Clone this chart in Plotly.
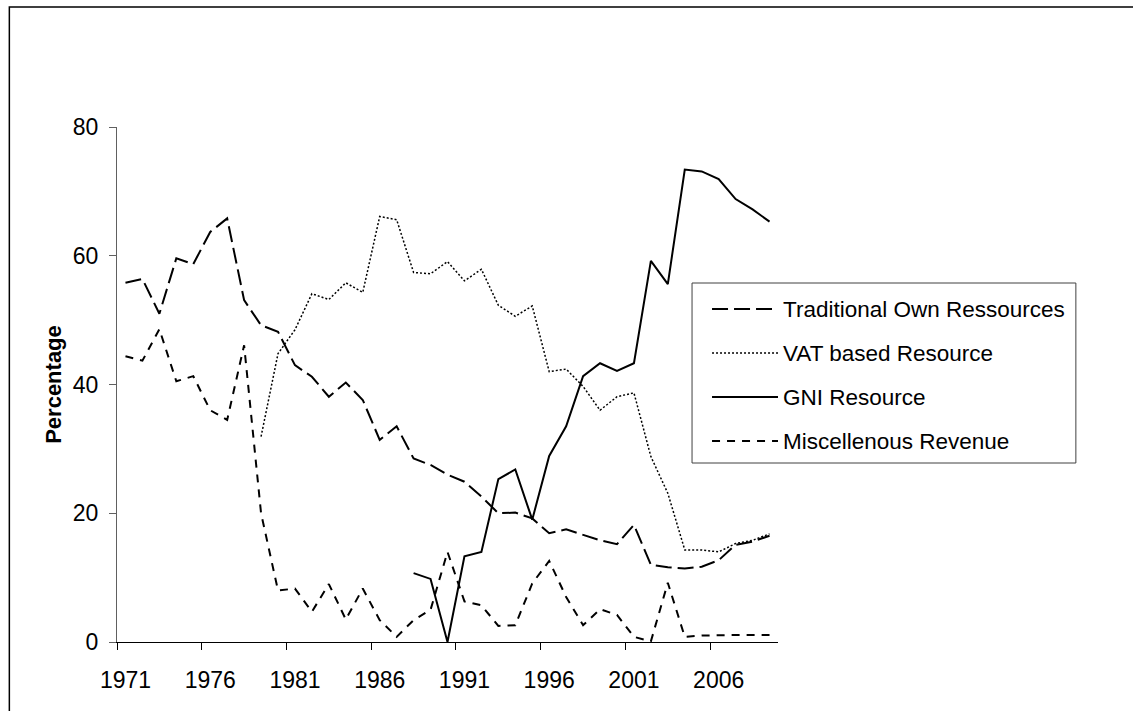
import plotly.graph_objects as go

years = list(range(1971, 2010))

traditional_own = [55.8, 56.4, 51.0, 59.6, 58.7, 63.7, 65.8, 53.1, 49.2, 48.2,
                   43.0, 41.2, 38.1, 40.3, 37.6, 31.4, 33.5, 28.5, 27.5, 26.0,
                   24.9, 22.6, 20.0, 20.1, 19.2, 16.9, 17.5, 16.6, 15.8, 15.2,
                   18.2, 12.0, 11.6, 11.4, 11.7, 12.7, 15.1, 15.6, 16.5]

vat_based = [None, None, None, None, None, None, None, None, 31.9, 44.8,
             48.5, 54.1, 53.2, 55.8, 54.3, 66.1, 65.6, 57.4, 57.2, 59.1,
             56.1, 57.9, 52.3, 50.6, 52.2, 42.0, 42.4, 39.7, 36.0, 38.1,
             38.7, 28.8, 23.1, 14.3, 14.3, 14.0, 15.3, 15.8, 16.8]

gni_resource = [None, None, None, None, None, None, None, None, None, None,
                None, None, None, None, None, None, None, 10.7, 9.8, 0.0,
                13.3, 14.0, 25.3, 26.8, 19.0, 28.9, 33.5, 41.3, 43.3, 42.1,
                43.3, 59.2, 55.6, 73.4, 73.1, 71.9, 68.8, 67.2, 65.3]

misc_revenue = [44.4, 43.7, 48.6, 40.5, 41.3, 36.0, 34.5, 46.1, 20.0, 8.0,
                8.3, 4.7, 9.0, 3.5, 8.3, 3.4, 0.8, 3.4, 5.0, 14.0,
                6.3, 5.7, 2.5, 2.6, 9.1, 12.6, 7.0, 2.6, 5.1, 4.2,
                0.8, 0.1, 9.2, 0.8, 1.0, 1.1, 1.1, 1.1, 1.1]

series_names = ["Traditional Own Ressources", "VAT based Resource",
                "GNI Resource", "Miscellenous Revenue"]
series_values = [traditional_own, vat_based, gni_resource, misc_revenue]
dash_styles = ["16px,6px", "2px,2px", "solid", "8px,7px"]
line_widths = [2, 1.5, 2, 2]

x_tick_labels = ["1971", "1976", "1981", "1986", "1991", "1996", "2001", "2006"]
x_tick_vals = [int(t) for t in x_tick_labels]
x_boundaries = [v - 0.5 for v in x_tick_vals]
y_tick_vals = [0, 20, 40, 60, 80]

FONT = "Arial, Liberation Sans, sans-serif"

fig = go.Figure()
for name, vals, dsh, lw in zip(series_names, series_values, dash_styles, line_widths):
    fig.add_trace(go.Scatter(x=years, y=vals, name=name, mode="lines",
                             line=dict(color="black", width=lw, dash=dsh),
                             connectgaps=False, showlegend=False))

L, R, T, B = 116.7, 778.0, 127.0, 642.0
pw, ph = R - L, B - T
def px(xp):
    return (xp - L) / pw
def py(yp):
    return (B - yp) / ph

shapes = []
annotations = []
# outer frame (only top and left edges fall inside the page)
shapes.append(dict(type="rect", xref="paper", yref="paper",
                   x0=px(9), x1=px(1200), y0=py(7), y1=py(760),
                   line=dict(color="black", width=1.5), fillcolor="rgba(0,0,0,0)"))
# legend box
shapes.append(dict(type="rect", xref="paper", yref="paper",
                   x0=px(692), x1=px(1076), y0=py(283), y1=py(463),
                   line=dict(color="#404040", width=1), fillcolor="white"))
entry_y = [309, 353, 397, 441]
for name, dsh, lw, ey in zip(series_names, dash_styles, line_widths, entry_y):
    shapes.append(dict(type="line", xref="paper", yref="paper",
                       x0=px(712), x1=px(778), y0=py(ey), y1=py(ey),
                       line=dict(color="black", width=lw, dash=dsh)))
    annotations.append(dict(text=name, xref="paper", yref="paper",
                            x=px(781), y=py(ey), xanchor="left", yanchor="middle",
                            showarrow=False, font=dict(family=FONT, size=22.5, color="black")))

fig.update_layout(
    width=1133, height=711,
    margin=dict(l=L, r=1133 - R, t=T, b=711 - B),
    paper_bgcolor="white", plot_bgcolor="white",
    shapes=shapes, annotations=annotations,
    font=dict(family=FONT, size=22, color="black"),
)
fig.update_xaxes(range=[1970.5, 2009.5], tickvals=x_tick_vals, ticktext=x_tick_labels,
                 ticks="", showgrid=False, zeroline=False,
                 showline=True, linecolor="black", linewidth=1,
                 ticklabelstandoff=17,
                 minor=dict(tickvals=x_boundaries, ticks="outside", ticklen=7,
                            tickcolor="black", tickwidth=1, showgrid=False),
                 tickfont=dict(family=FONT, size=23, color="black"))
fig.update_yaxes(range=[0, 80], tickvals=y_tick_vals, ticks="outside", ticklen=7,
                 tickcolor="#606060", showgrid=False, zeroline=False,
                 showline=True, linecolor="#606060", linewidth=1,
                 ticklabelstandoff=6,
                 tickfont=dict(family=FONT, size=23, color="black"),
                 title=dict(text="<b>Percentage</b>", standoff=5,
                            font=dict(family=FONT, size=22, color="black")))

fig.write_html("out.html",
               config={"displayModeBar": False},
               post_script="document.body.style.margin='0';document.body.style.padding='0';"
                           "document.body.style.overflow='hidden';")
